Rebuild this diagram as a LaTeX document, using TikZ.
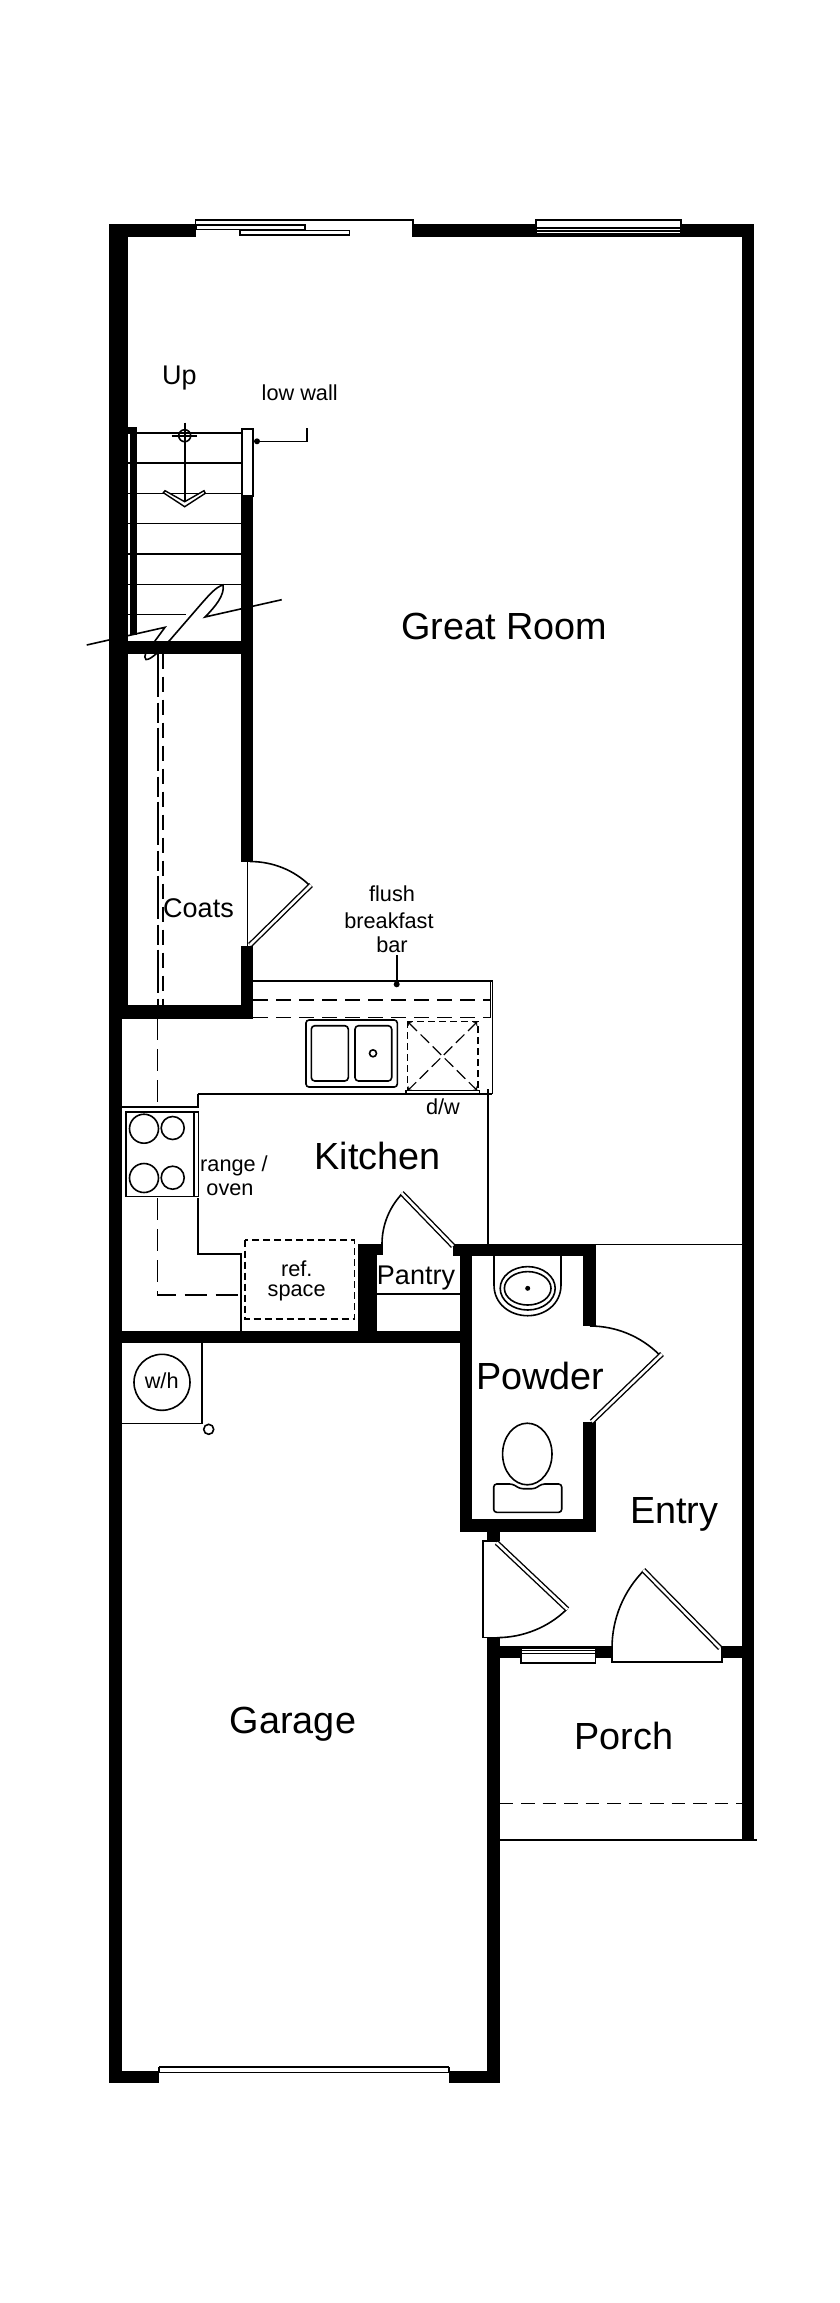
\documentclass[tikz,border=0pt]{standalone}
\usepackage{fontspec}
\setmainfont{Liberation Sans}
\begin{document}
\begin{tikzpicture}[x=1pt,y=-1pt,
  wall/.style={fill=black,draw=none},
  thin line/.style={line width=1.6pt,draw=black},
  hair/.style={line width=1.2pt,draw=black},
  leaf/.style={double,double distance=2.6pt,line width=1.4pt,draw=black,line cap=butt},
  swing/.style={line width=1.6pt,draw=black},
  hidden/.style={line width=1.5pt,draw=black,dash pattern=on 15pt off 8pt},
  longdash/.style={line width=1.2pt,draw=black,dash pattern=on 43pt off 6pt on 20pt off 5pt},
  win/.style={fill=white,draw=black,line width=1.6pt},
  room/.style={anchor=base,inner sep=0pt,font=\fontsize{37.8}{37.8}\selectfont},
  midlabel/.style={anchor=base,inner sep=0pt,font=\fontsize{27}{27}\selectfont},
  note/.style={anchor=base,inner sep=0pt,font=\fontsize{21.7}{21.7}\selectfont}]
\useasboundingbox (0,0) rectangle (840,2303);
\fill[white] (0,0) rectangle (840,2303);

% exterior & interior walls
\path[wall] (109,224) rectangle (196,236.7);
\path[wall] (413,224) rectangle (536,236.7);
\path[wall] (682,224) rectangle (754.3,236.7);
\path[wall] (742,224) rectangle (754.3,1840);
\path[wall] (109,224) rectangle (128,1005);
\path[wall] (109,1005) rectangle (122,2083);
\path[wall] (109,1005) rectangle (253.3,1018);
\path[wall] (109,2070.7) rectangle (159,2083);
\path[wall] (449,2070.7) rectangle (499.5,2083);
\path[wall] (487.3,1637) rectangle (499.5,2083);
\path[wall] (487.3,1532) rectangle (499.5,1541);
% stairs inner strip, under-stair wall and coat closet wall
\path[wall] (128,426.7) rectangle (137,432.7);
\path[wall] (130,426.7) rectangle (137,635);
\path[wall] (128,641) rectangle (241.3,653.7);
\path[wall] (241.3,496) rectangle (253.3,861.7);
\path[wall] (241.3,946) rectangle (253.3,1005);
% kitchen / garage wall
\path[wall] (122,1330.5) rectangle (460,1343);
\path[wall] (358,1244) rectangle (376.7,1331);
\path[wall] (358,1244) rectangle (382.7,1255);
\path[wall] (453,1244) rectangle (596,1256);
% powder room
\path[wall] (460,1244) rectangle (472,1532);
\path[wall] (460,1519.3) rectangle (595.7,1532);
\path[wall] (582.7,1244) rectangle (595.7,1326);
\path[wall] (582.7,1422) rectangle (595.7,1532);
% entry front wall
\path[wall] (499,1646) rectangle (612.7,1658.3);
\path[wall] (721.7,1646) rectangle (742,1658.3);

% sliding door (top)
\draw[thin line] (195.5,236.7) -- (195.5,220) -- (413,220) -- (413,236.7);
\draw[win,line width=1.7pt] (196,225.3) rectangle (305,229.5);
\draw[win,line width=1.7pt] (240,230.5) rectangle (349.5,235);
% window (top)
\draw[win] (536,220) rectangle (681,236);
\foreach \yy in {228,231,234}{\draw[thin line] (536,\yy) -- (681,\yy);}
% garage door
\draw[fill=white,draw=none] (159,2066) rectangle (449,2072.7);
\draw[line width=2pt] (159,2067) -- (449,2067);
\draw[thin line] (159,2067) -- (159,2072.4) -- (449,2072.4) -- (449,2067);

% stairs
\foreach \yy in {432.7,463,493.3,523.3,554,584.3}{\draw[thin line] (128,\yy) -- (242,\yy);}
\draw[thin line] (128,614.3) -- (186,614.3);
\draw[win] (242,429) rectangle (252.7,496);
\draw[thin line] (184.7,422.7) -- (184.7,501.7);
\draw[thin line] (184.7,435.7) circle (6);
\draw[line width=1.8pt] (171.7,435.7) -- (197.3,435.7);
\draw[fill=white,line width=1.4pt,line join=miter] (163.3,492.7) -- (184.7,506.7) -- (205.3,493.3) -- (204,490.7) -- (184.7,501.7) -- (165,490.7) -- cycle;
\draw[thin line] (184.7,491) -- (184.7,501.7);
% break line
\draw[thin line,line join=miter] (86.7,645) -- (165,627.3) -- (152,645) .. controls (146,651) and (143,657) .. (146,659.5) .. controls (150,660) and (158,653) .. (170,640) -- (202,603) .. controls (210,594) and (216,587) .. (223,585) .. controls (225,595) and (215,607) .. (205,617) -- (281.7,599.7);
% closet dashed & long-dash lines
\draw[longdash] (158,653.7) -- (158,1005);
\draw[hidden] (163,653.7) -- (163,1005);
\draw[hidden,line width=1.3pt,dash pattern=on 22pt off 9pt] (157.7,1018) -- (157.7,1107);
\draw[hidden,line width=1.3pt,dash pattern=on 22pt off 9pt] (157.7,1198) -- (157.7,1295) -- (245,1295);

% coats door
\draw[hair] (247.7,861.7) -- (247.7,946);
\draw[swing] (250,861.5) .. controls (272.5,861.5) and (294.2,870) .. (310.1,885.9);
\draw[leaf] (250,945) -- (311,885);

% counter
\draw[thin line] (253.3,980.7) -- (492.3,980.7) -- (492.3,1094);
\draw[hidden,line width=1.3pt] (253.3,1000) -- (490.7,1000);
\draw[hair] (490.7,980.7) -- (490.7,1017.3);
\draw[hidden,line width=1.3pt] (253.3,1017.3) -- (490.7,1017.3);
\draw[hair] (122,1018.3) -- (253.3,1018.3);
\draw[thin line] (197.7,1094) -- (492.3,1094);
\draw[thin line] (122,1107) -- (197.7,1107) -- (197.7,1094);
\draw[thin line] (197.7,1198) -- (197.7,1254) -- (240.7,1254) -- (240.7,1330.5);
\draw[thin line] (487.7,1089) -- (487.7,1244);
% leader breakfast bar
\draw[thin line] (396.7,955) -- (396.7,984.3);
\fill (396.7,984.3) circle (3);
% sink
\draw[thin line,rounded corners=3pt] (306,1020) rectangle (397.3,1087);
\draw[thin line,rounded corners=3.5pt] (311.3,1025.7) rectangle (348.3,1081);
\draw[thin line,rounded corners=3.5pt] (355,1025.7) rectangle (391.7,1081);
\draw[thin line] (373,1053.3) circle (3.5);
% dishwasher
\draw[thin line,dash pattern=on 7pt off 4pt] (407.3,1021.3) rectangle (477.7,1091);
\draw[line width=1.2pt,dash pattern=on 12pt off 5pt,<->,>=to] (407.8,1021.8) -- (477.2,1090.5);
\draw[line width=1.2pt,dash pattern=on 12pt off 5pt,<->,>=to] (477.2,1021.8) -- (407.8,1090.5);
\draw[win] (405.7,1090.5) rectangle (479.3,1094);
% range
\draw[win] (125.7,1111.7) rectangle (198.3,1196.3);
\draw[thin line] (194,1111.7) -- (194,1196.3);
\draw[thin line] (144,1128.7) circle (14.5);
\draw[thin line] (172.7,1128) circle (11.5);
\draw[thin line] (144,1178) circle (14.5);
\draw[thin line] (172.7,1177.7) circle (11.5);
% ref space
\draw[thin line,dash pattern=on 7pt off 4pt] (245,1239.7) rectangle (354.3,1319);
% pantry
\draw[hair] (376.7,1294) -- (460,1294);
\draw[swing] (382,1244) .. controls (382,1224.6) and (389.7,1206.1) .. (403.4,1192.4);
\draw[leaf] (453,1246) -- (401.7,1193);
% powder
\draw[thin line] (595.7,1244.3) -- (742,1244.3);
\draw[thin line] (494,1256) -- (494,1285) .. controls (494,1304) and (510,1315.7) .. (527.7,1315.7) .. controls (545,1315.7) and (561,1304) .. (561,1285) -- (561,1256);
\draw[thin line] (527.7,1288.3) ellipse (27.5 and 21.7);
\draw[thin line] (527.7,1288.3) ellipse (23.3 and 16.7);
\fill (527.7,1288.3) circle (2.5);
\draw[thin line] (527.3,1454) ellipse (24.7 and 30.8);
\draw[thin line,fill=white,rounded corners=3pt] (493.7,1484) -- (512.7,1484) -- (520,1488.7) -- (535,1488.7) -- (541.7,1484) -- (561.7,1484) -- (561.7,1512.3) -- (493.7,1512.3) -- cycle;
\draw[swing] (590,1326) .. controls (616,1326) and (640.9,1336.3) .. (659.3,1354.7);
\draw[leaf] (591.7,1421.7) -- (662,1354);
% garage entry door
\draw[thin line] (499,1540.7) -- (482.7,1540.7) -- (482.7,1637.6) -- (497,1637.6);
\draw[swing] (497,1637.6) .. controls (522.9,1637.6) and (548.7,1627.3) .. (567,1609);
\draw[leaf] (496.7,1542.7) -- (567.3,1609.3);
% front door
\draw[swing] (612,1648) .. controls (612,1618.8) and (623.6,1590.8) .. (644.2,1570.2);
\draw[thin line] (612,1648) -- (612,1662) -- (722,1662) -- (722,1646);
\draw[leaf] (720,1648) -- (643.3,1570);
% entry window
\draw[win] (521,1647.7) rectangle (595.3,1662.7);
\foreach \yy in {1650.5,1653.5}{\draw[line width=1.2pt] (521,\yy) -- (595.3,\yy);}
% porch
\draw[hidden,dash pattern=on 13.5pt off 8pt] (499.5,1803.3) -- (742,1803.3);
\draw[thin line] (499.5,1840) -- (757,1840);
% water heater
\draw[thin line] (202,1343) -- (202,1423.3) -- (122,1423.3);
\draw[thin line] (162,1382.3) circle (28);
\draw[thin line] (208.7,1429.3) circle (5);
% low wall leader
\draw[thin line] (257,441.3) -- (306.7,441.3) -- (306.7,428.3);
\fill (257,441.3) circle (3);

% labels
\node[midlabel] (up) at (179.3,384) {Up};
\node[note] (lowwall) at (299.7,400) {low wall};
\node[room] (great) at (504.4,639) {Great Room};
\node[midlabel] (coats) at (198.5,917.3) {Coats};
\node[note] (flush) at (392,901.6) {flush};
\node[note] (breakfast) at (389,928) {breakfast};
\node[note] (bar) at (392,952) {bar};
\node[note] (dw) at (443,1114.3) {d/w};
\node[room] (kitchen) at (377.7,1169.3) {Kitchen};
\node[note] (range) at (234,1171.7) {range /};
\node[note] (oven) at (230,1195) {oven};
\node[note] (ref) at (296.7,1276) {ref.};
\node[note] (space) at (296.7,1296) {space};
\node[midlabel] (pantry) at (416,1284) {Pantry};
\node[room] (powder) at (540.3,1389.3) {Powder};
\node[room] (entry) at (674.3,1523.3) {Entry};
\node[room] (porch) at (624,1749.3) {Porch};
\node[room] (garage) at (293,1733) {Garage};
\node[note] (wh) at (161.7,1388.7) {w/h};
\end{tikzpicture}
\end{document}
